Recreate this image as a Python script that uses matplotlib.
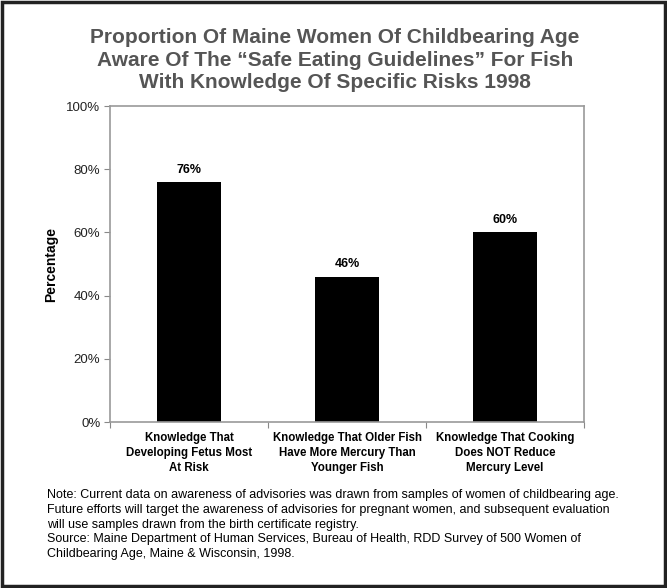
import matplotlib
matplotlib.use("Agg")
import matplotlib.pyplot as plt
from matplotlib.patches import Rectangle

plt.rcParams["font.family"] = ["Liberation Sans", "DejaVu Sans"]

categories = [
    "Knowledge That\nDeveloping Fetus Most\nAt Risk",
    "Knowledge That Older Fish\nHave More Mercury Than\nYounger Fish",
    "Knowledge That Cooking\nDoes NOT Reduce\nMercury Level",
]
values = [76, 46, 60]
yticks = [0, 20, 40, 60, 80, 100]
title = ("Proportion Of Maine Women Of Childbearing Age\n"
         "Aware Of The \u201cSafe Eating Guidelines\u201d For Fish\n"
         "With Knowledge Of Specific Risks 1998")
note = ("Note: Current data on awareness of advisories was drawn from samples of women of childbearing age.\n"
        "Future efforts will target the awareness of advisories for pregnant women, and subsequent evaluation\n"
        "will use samples drawn from the birth certificate registry.\n"
        "Source: Maine Department of Human Services, Bureau of Health, RDD Survey of 500 Women of\n"
        "Childbearing Age, Maine & Wisconsin, 1998.")

fig = plt.figure(figsize=(6.67, 5.88), dpi=100)
fig.patches.append(Rectangle((0.003, 0.004), 0.994, 0.992, transform=fig.transFigure,
                             fill=False, edgecolor="#222222", linewidth=2.5))

ax = fig.add_axes([0.165, 0.2823, 0.7106, 0.5374])
x = range(len(values))
ax.bar(x, values, width=0.4, color="black")
for xi, v in zip(x, values):
    ax.text(xi, v + 2, f"{v}%", ha="center", va="bottom", fontsize=9, fontweight="bold")

ax.set_xlim(-0.5, len(values) - 0.5)
ax.set_ylim(0, 100)
ax.set_yticks(yticks)
ax.set_yticklabels([f"{t}%" for t in yticks], fontsize=9.5, color="#222222")
ax.set_xticks([i - 0.5 for i in range(len(values) + 1)])
ax.set_xticklabels([])
ax.set_xticks(list(x), minor=True)
ax.set_xticklabels(categories, minor=True, fontsize=8.3, fontweight="bold", linespacing=1.35)
ax.tick_params(axis="x", which="minor", length=0, pad=7)
ax.tick_params(axis="x", which="major", length=4, color="#888888", direction="out")
ax.tick_params(axis="y", length=4, color="#888888", pad=3)
for s in ax.spines.values():
    s.set_color("#999999")
    s.set_linewidth(1.2)
ax.set_ylabel("Percentage", fontsize=10, fontweight="bold", labelpad=6)

fig.text(0.502, 0.952, title, ha="center", va="top", fontsize=15, fontweight="bold",
         color="#555555", linespacing=1.22)
fig.text(0.07, 0.168, note, ha="left", va="top", fontsize=9, linespacing=1.3)

fig.savefig("out.png", dpi=100)
